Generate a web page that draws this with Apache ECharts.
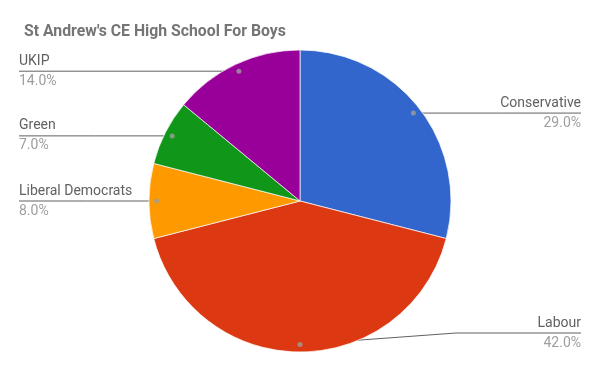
<!DOCTYPE html>
<html><head><meta charset="utf-8">
<script src="https://cdn.jsdelivr.net/npm/echarts@6/dist/echarts.min.js"></script>
<style>html,body{margin:0;padding:0;background:#fff}#c{width:600px;height:371px}</style>
</head><body><div id="c"></div>
<script>
const title = "St Andrew's CE High School For Boys";
const categories = ['Conservative', 'Labour', 'Liberal Democrats', 'Green', 'UKIP'];
const values = [29, 42, 8, 7, 14];
const colors = ['#3366cc', '#dc3912', '#ff9900', '#109618', '#990099'];

const CX = 300, CY = 201, R = 151, DOT = 0.95;
const total = values.reduce((a, b) => a + b, 0);
const midAngles = [];
let acc = 0;
values.forEach(v => { midAngles.push((acc + v / 2) / total * 360); acc += v; });

function dotPos(i) {
  const a = midAngles[i] * Math.PI / 180;
  return [CX + DOT * R * Math.sin(a), CY - DOT * R * Math.cos(a)];
}

const chart = echarts.init(document.getElementById('c'), null, { renderer: 'canvas' });
const option = {
  animation: false,
  title: { text: title, left: 19, top: 19,
    textStyle: { fontFamily: 'Roboto', fontSize: 15.8, fontWeight: 'bold', color: '#757575' } },
  polar: { center: [CX, CY], radius: R },
  angleAxis: { type: 'value', min: 0, max: 360, startAngle: 90, clockwise: true, show: false },
  radiusAxis: { type: 'value', min: 0, max: 1, show: false },
  series: [
    {
      type: 'pie', center: [CX, CY], radius: R, startAngle: 90, clockwise: true,
      data: categories.map((c, i) => ({ name: c, value: values[i], itemStyle: { color: colors[i] } })),
      itemStyle: { borderColor: '#fff', borderWidth: 0.7 },
      label: {
        show: true, overflow: 'none',
        formatter: p => '{n|' + p.name + '}\n{p|' + p.percent.toFixed(1) + '%}',
        rich: {
          n: { fontFamily: 'Roboto', fontSize: 14, color: '#616161', lineHeight: 20 },
          p: { fontFamily: 'Roboto', fontSize: 14, color: '#9e9e9e', lineHeight: 20 }
        }
      },
      labelLine: { show: true, lineStyle: { color: '#616161', width: 1 } },
      labelLayout: function (params) {
        const i = params.dataIndex;
        const d = dotPos(i);
        const right = midAngles[i] <= 180;
        const ly = Math.min(d[1], CY + R - 19);
        const ex = right ? 581 : 19;
        let pts;
        if (Math.abs(ly - d[1]) < 0.5) pts = [d, [(d[0] + ex) / 2, ly], [ex, ly]];
        else { const bx = right ? CX + R + 5 : CX - R - 5; pts = [d, [bx, ly], [ex, ly]]; }
        return { x: ex, y: ly, align: right ? 'right' : 'left', verticalAlign: 'middle', labelLinePoints: pts };
      },
      emphasis: { disabled: true }, silent: true, z: 1
    },
    {
      type: 'scatter', coordinateSystem: 'polar',
      data: midAngles.map(a => [DOT, a]),
      symbolSize: 5, itemStyle: { color: '#9e9e9e' }, z: 5, silent: true
    }
  ]
};
chart.setOption(option);
</script></body></html>
